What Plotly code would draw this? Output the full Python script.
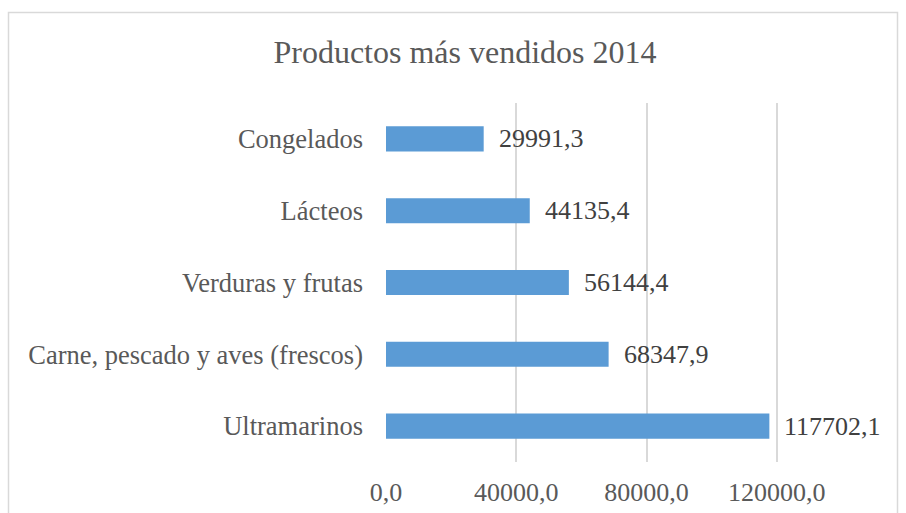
import plotly.graph_objects as go

categories = ["Ultramarinos", "Carne, pescado y aves (frescos)", "Verduras y frutas", "Lácteos", "Congelados"]
values = [117702.1, 68347.9, 56144.4, 44135.4, 29991.3]
tick_vals = [0, 40000, 80000, 120000]
tick_text = ["0,0", "40000,0", "80000,0", "120000,0"]
title_text = "Productos más vendidos 2014"

W, H = 906, 513
L, R, T, B = 386, 842, 103, 462  # plot area in pixels

def px_x(p):
    return (p - L) / (R - L)

def px_y(p):
    return (B - p) / (B - T)

font_family = "Liberation Serif, Times New Roman, serif"

fig = go.Figure()
fig.add_trace(go.Bar(
    y=categories, x=values, orientation="h",
    marker=dict(color="#5B9BD5", line=dict(width=0)),
    width=0.35,
    hoverinfo="skip",
))

annotations = []
for c, v in zip(categories, values):
    annotations.append(dict(
        x=v, y=c, xref="x", yref="y",
        text=f"{v:.1f}".replace(".", ","),
        showarrow=False, xanchor="left", yanchor="middle",
        xshift=13,
        font=dict(family=font_family, size=26, color="#404040"),
    ))

fig.update_layout(
    width=W, height=H,
    margin=dict(l=L, r=W - R, t=T, b=H - B, pad=0, autoexpand=False),
    paper_bgcolor="white", plot_bgcolor="white",
    showlegend=False,
    title=dict(text=title_text, x=465 / W, xref="container", xanchor="center",
               y=1 - 52 / H, yref="container", yanchor="middle",
               font=dict(family=font_family, size=32, color="#595959")),
    font=dict(family=font_family, size=26, color="#595959"),
    annotations=annotations,
    xaxis=dict(range=[0, 140000], tickvals=tick_vals, ticktext=tick_text,
               automargin=False,
               showgrid=True, gridcolor="#D9D9D9", gridwidth=1.5,
               zeroline=False, showline=False, ticks="",
               ticklabelstandoff=12,
               tickfont=dict(family=font_family, size=26, color="#595959")),
    yaxis=dict(categoryorder="array", categoryarray=categories,
               automargin=False,
               showgrid=False, zeroline=False, showline=False, ticks="",
               ticklabelstandoff=22,
               tickfont=dict(family=font_family, size=26.5, color="#595959")),
    shapes=[dict(type="rect", xref="paper", yref="paper",
                 x0=px_x(8.5), x1=px_x(897.5), y0=px_y(530), y1=px_y(12.5),
                 line=dict(color="#D9D9D9", width=1.5), fillcolor="rgba(0,0,0,0)",
                 layer="below")],
)

fig.write_html("out.html",
               config=dict(displayModeBar=False),
               post_script="document.body.style.margin='0';document.body.style.overflow='hidden';")
